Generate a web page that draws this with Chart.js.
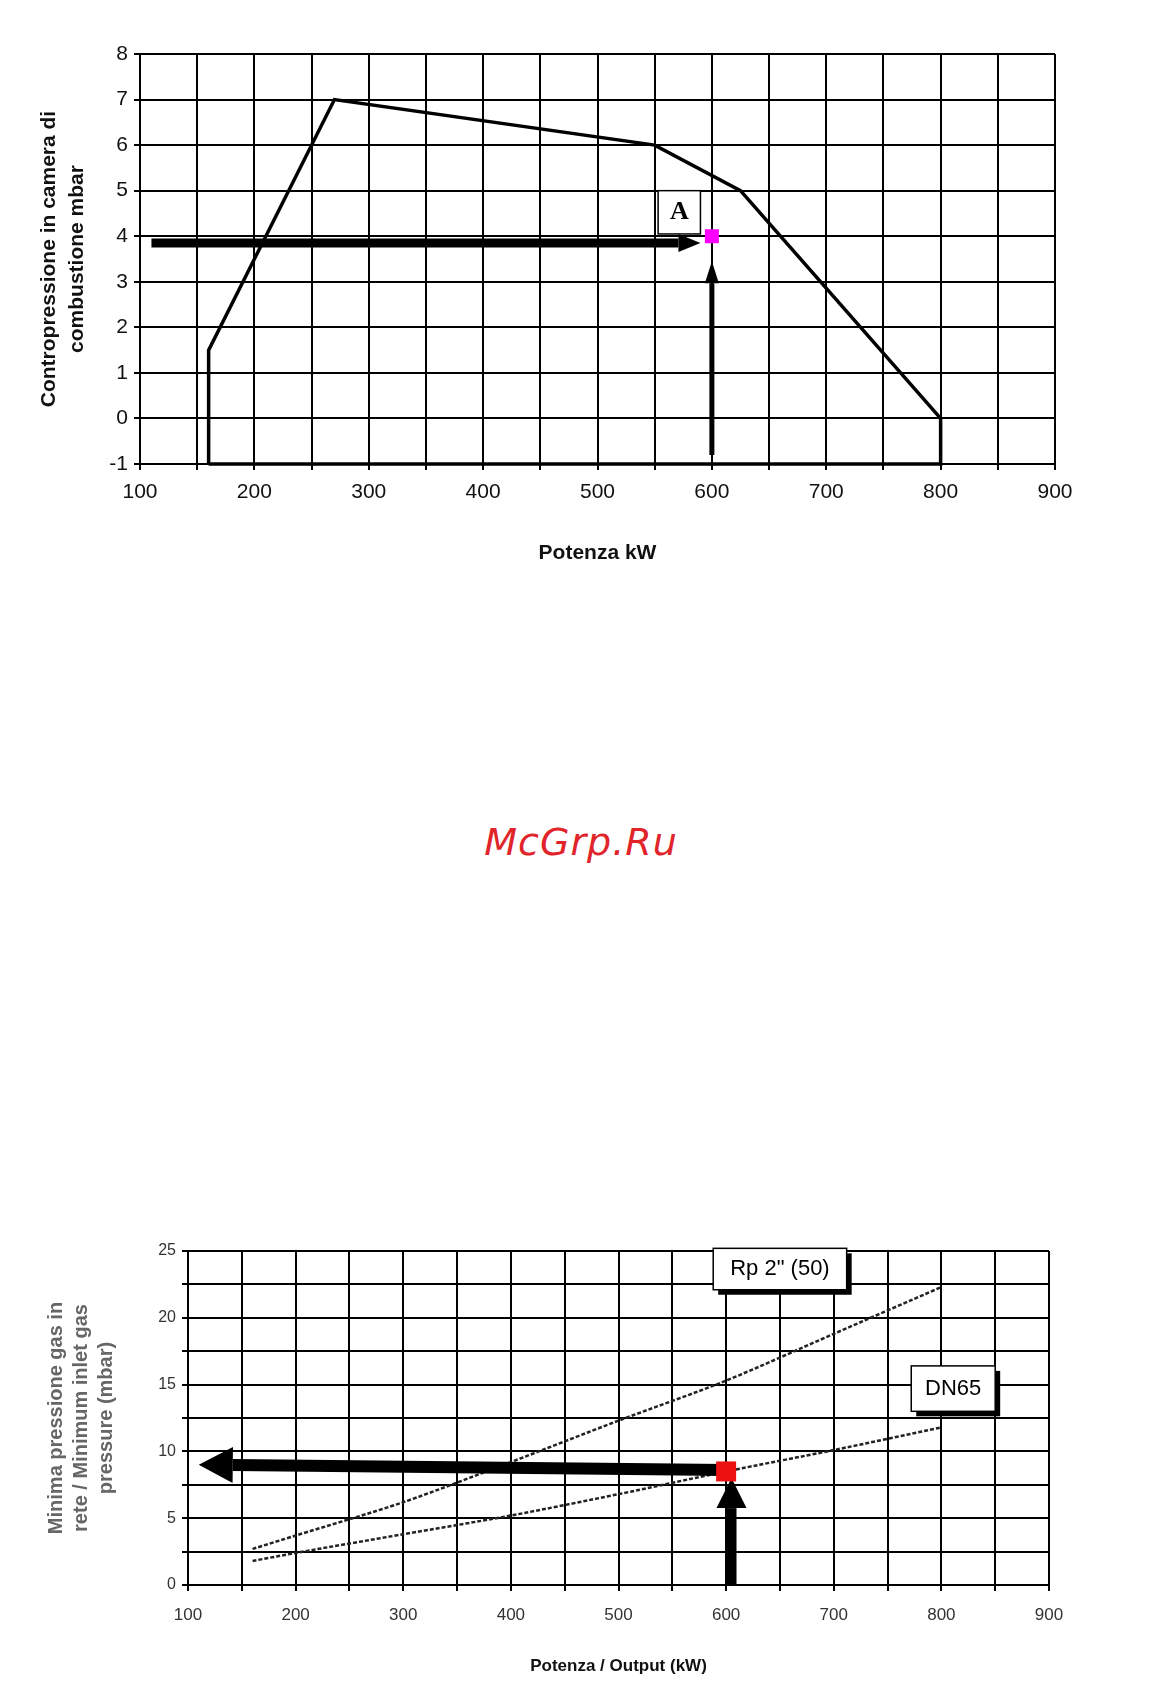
<!DOCTYPE html>
<html><head><meta charset="utf-8">
<script src="https://cdn.jsdelivr.net/npm/chart.js@4/dist/chart.umd.min.js"></script>
<style>
body{margin:0;background:#fff;width:1162px;height:1691px;position:relative;overflow:hidden;font-family:"Liberation Sans",Arial,sans-serif}
.w{position:absolute;left:0;width:1162px}
#wm{position:absolute;left:0;width:1162px;top:820px;text-align:center;color:#e0242a;font:italic 38px "DejaVu Sans",sans-serif;letter-spacing:1px}
</style></head><body>
<div class="w" style="top:0;height:600px"><canvas id="c1"></canvas></div>
<div id="wm">McGrp.Ru</div>
<div class="w" style="top:1200px;height:491px"><canvas id="c2"></canvas></div>
<script>
// ---- Chart 1 data ----
const envelopeX = [160,160,270,550,625,800,800,160];
const envelopeY = [-1,1.5,7,6,5,0,-1,-1];
const pointA = [600,4];
const arrowH1 = [[110,3.85],[590,3.85]];
const arrowV1 = [[600,-0.8],[600,3.45]];
const labelA = {text:"A", x0:553, x1:590, y0:5, y1:4.05};
const xTicks = [100,200,300,400,500,600,700,800,900];
// ---- Chart 2 data ----
const powerX = [160,200,300,400,500,600,700,800];
const rp2Y  = [2.7,3.7,6.2,9.2,12.3,15.3,18.8,22.3];
const dn65Y = [1.8,2.4,3.8,5.2,6.8,8.5,10.1,11.8];
const point2 = [600,8.5];
const arrowH2 = [[600,8.6],[110,9.0]];
const arrowV2 = [[605,0],[605,8.0]];
const labelsBox2 = [{text:'Rp 2" (50)',x0:588,x1:712,y0:25.2,y1:22.1},{text:'DN65',x0:772,x1:850,y0:16.4,y1:13.0}];

const F='"Liberation Sans",Arial,sans-serif';
function fixed(w,h){return s=>{if(w!=null)s.width=w;if(h!=null)s.height=h;};}
function xy(a){return a.map(p=>({x:p[0],y:p[1]}));}

const deco={id:'deco',afterDatasetsDraw(ch){
  const o=ch.options.plugins.deco, ctx=ch.ctx, X=ch.scales.x, Y=ch.scales.y;
  ctx.save();
  (o.arrows||[]).forEach(a=>{
    const x0=X.getPixelForValue(a.p[0][0]),y0=Y.getPixelForValue(a.p[0][1]);
    const x1=X.getPixelForValue(a.p[1][0]),y1=Y.getPixelForValue(a.p[1][1]);
    const ang=Math.atan2(y1-y0,x1-x0);
    const bx=x1-Math.cos(ang)*a.head, by=y1-Math.sin(ang)*a.head;
    ctx.strokeStyle='#000';ctx.lineWidth=a.w;ctx.lineCap='butt';
    ctx.beginPath();ctx.moveTo(x0,y0);ctx.lineTo(bx,by);ctx.stroke();
    ctx.fillStyle='#000';ctx.beginPath();ctx.moveTo(x1,y1);
    ctx.lineTo(bx+Math.sin(ang)*a.hw,by-Math.cos(ang)*a.hw);
    ctx.lineTo(bx-Math.sin(ang)*a.hw,by+Math.cos(ang)*a.hw);ctx.closePath();ctx.fill();
  });
  (o.boxes||[]).forEach(b=>{
    const l=X.getPixelForValue(b.x0),r=X.getPixelForValue(b.x1),t=Y.getPixelForValue(b.y0),bt=Y.getPixelForValue(b.y1);
    if(b.shadow){ctx.fillStyle='#000';ctx.fillRect(l+5,t+5,r-l,bt-t);}
    ctx.fillStyle='#fff';ctx.fillRect(l,t,r-l,bt-t);
    ctx.strokeStyle='#000';ctx.lineWidth=1.5;ctx.strokeRect(l,t,r-l,bt-t);
    ctx.fillStyle='#000';ctx.font=b.font;ctx.textAlign='center';ctx.textBaseline='middle';
    ctx.fillText(b.text,(l+r)/2,(t+bt)/2);
  });
  (o.squares||[]).forEach(s=>{
    const x=X.getPixelForValue(s.p[0]),y=Y.getPixelForValue(s.p[1]);
    ctx.fillStyle=s.c;ctx.fillRect(x-s.s/2,y-s.s/2,s.s,s.s);
  });
  ctx.restore();
}};

function axes(o){
  return {
    x:{type:'linear',min:100,max:900,afterFit:fixed(null,o.xh),
       afterBuildTicks:s=>{s.ticks=[];for(let v=100;v<=900;v+=50)s.ticks.push({value:v});},
       ticks:{autoSkip:false,padding:o.tp,color:o.tc,font:{family:F,size:o.fs},callback:v=>xTicks.includes(v)?String(v):''},
       grid:{color:'#000',lineWidth:2,drawTicks:true,tickLength:6},border:{color:'#000',width:2},
       title:{display:true,text:o.xt,color:'#111',font:{family:F,size:o.tfs,weight:'bold'},padding:{top:o.ttp}}},
    y:{type:'linear',min:o.ymin,max:o.ymax,afterFit:fixed(o.yw,null),
       afterBuildTicks:s=>{s.ticks=[];for(let v=o.ymin;v<=o.ymax+1e-9;v+=o.ystep)s.ticks.push({value:v});},
       ticks:{autoSkip:false,padding:6,color:o.tc,font:{family:F,size:o.yfs},callback:o.ycb},
       grid:{color:'#000',lineWidth:2,tickLength:6},border:{color:'#000',width:2},
       title:{display:true,text:o.yt,color:o.ytc,font:{family:F,size:o.ytfs,weight:'bold',lineHeight:o.ylh},padding:{bottom:o.ytp}}}
  };
}

new Chart(document.getElementById('c1'),{type:'scatter',
 data:{datasets:[{data:xy(envelopeX.map((x,i)=>[x,envelopeY[i]])),showLine:true,clip:false,borderColor:'#000',borderWidth:3.5,pointRadius:0,tension:0}]},
 options:{responsive:true,maintainAspectRatio:false,animation:false,
  layout:{padding:{top:54,right:107,left:32,bottom:30}},
  plugins:{legend:{display:false},tooltip:{enabled:false},
   deco:{arrows:[{p:arrowH1,w:9,head:22,hw:9},{p:arrowV1,w:5,head:22,hw:7}],
         boxes:[{...labelA,font:'bold 26px "Liberation Serif",serif'}],
         squares:[{p:pointA,c:'#ff00ff',s:14}]}},
  scales:axes({xh:106,tp:10,tc:'#111',fs:21,xt:'Potenza kW',tfs:21,ttp:0,ymin:-1,ymax:8,ystep:1,yw:108,yfs:21,ylh:1.3,
    ycb:v=>String(v),yt:['Contropressione in camera di','combustione mbar'],ytc:'#111',ytfs:21,ytp:20})},
 plugins:[deco]});

new Chart(document.getElementById('c2'),{type:'scatter',
 data:{datasets:[
  {data:xy(powerX.map((x,i)=>[x,rp2Y[i]])),showLine:true,borderColor:'#222',borderWidth:2.5,borderDash:[4,2],pointRadius:0,tension:0.3},
  {data:xy(powerX.map((x,i)=>[x,dn65Y[i]])),showLine:true,borderColor:'#222',borderWidth:2.5,borderDash:[4,2],pointRadius:0,tension:0.3}]},
 options:{responsive:true,maintainAspectRatio:false,animation:false,
  layout:{padding:{top:51,right:113,left:40,bottom:10}},
  plugins:{legend:{display:false},tooltip:{enabled:false},
   deco:{squares:[{p:point2,c:'#ee1111',s:20}],
         arrows:[{p:arrowH2,w:12,head:34,hw:18},{p:arrowV2,w:10,head:30,hw:15}],
         boxes:labelsBox2.map(b=>({...b,shadow:true,font:'22px "Liberation Sans Narrow","Liberation Sans",sans-serif'}))}},
  scales:axes({xh:96,tp:14,tc:'#333',fs:17,xt:'Potenza / Output (kW)',tfs:17,ttp:6,ymin:0,ymax:25,ystep:2.5,yw:148,yfs:16,ylh:1.25,
    ycb:v=>Number.isInteger(v/5)?String(v):'',yt:['Minima pressione gas in','rete / Minimum inlet gas','pressure (mbar)'],ytc:'#666',ytfs:20,ytp:24})},
 plugins:[deco]});
</script></body></html>
